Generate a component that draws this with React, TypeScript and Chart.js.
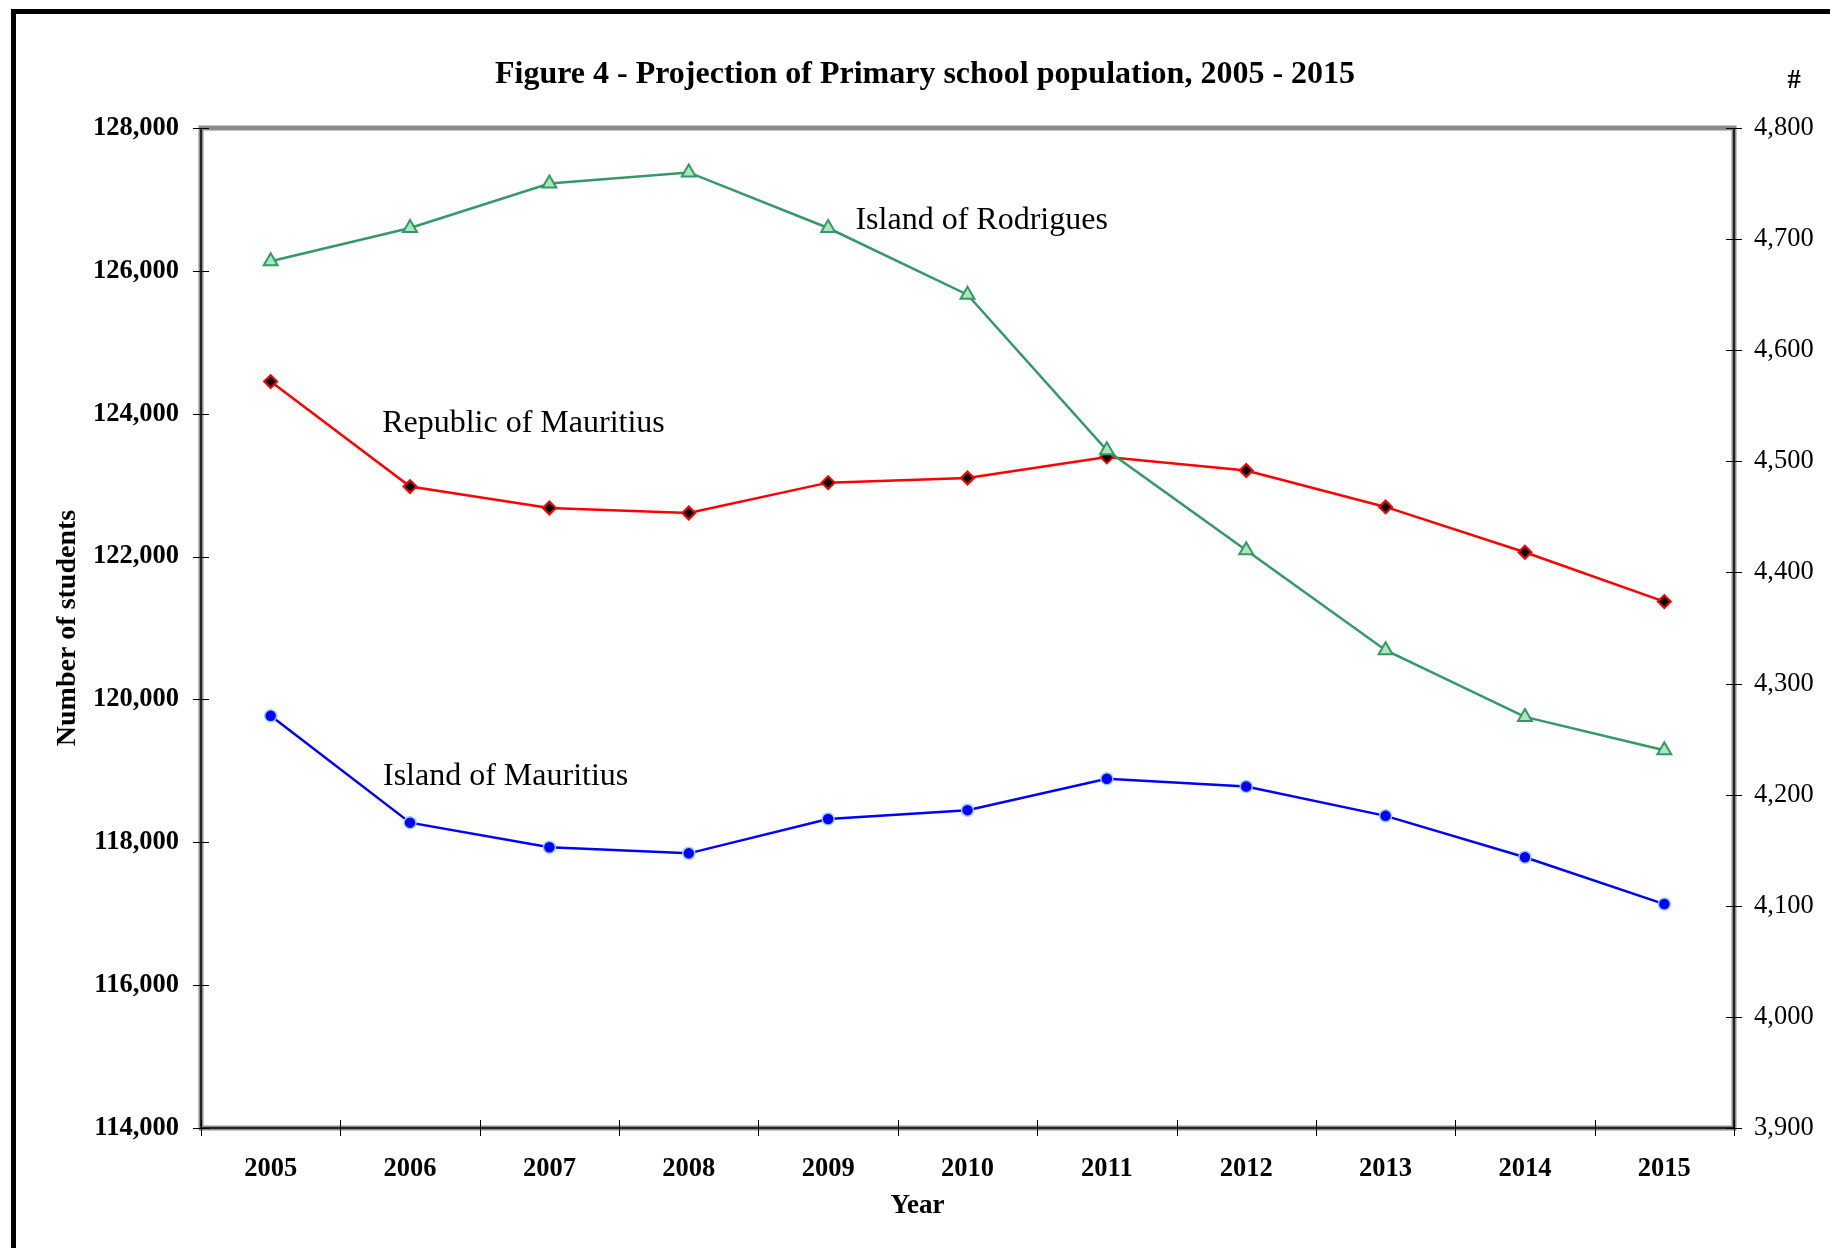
import React, { useEffect, useRef } from "react";
import { Chart, registerables } from "chart.js";

Chart.register(...registerables);

// ---- data ----
const years = ["2005", "2006", "2007", "2008", "2009", "2010", "2011", "2012", "2013", "2014", "2015"];

const republicOfMauritius = [124450, 122980, 122680, 122610, 123035, 123100, 123395, 123205, 122695, 122060, 121370];
const islandOfMauritius = [119770, 118275, 117930, 117845, 118325, 118450, 118890, 118780, 118370, 117790, 117135];
const islandOfRodrigues = [4680, 4710, 4750, 4760, 4710, 4650, 4510, 4420, 4330, 4270, 4240];

const studentAxisRange = [114000, 128000];
const studentAxisStep = 2000;
const rodriguesAxisRange = [3900, 4800];
const rodriguesAxisStep = 100;

const seriesNames = ["Island of Rodrigues", "Republic of Mauritius", "Island of Mauritius"];

const chartTitle = "Figure 4 - Projection of Primary school population, 2005 - 2015";
const leftAxisTitle = "Number of students";
const bottomAxisTitle = "Year";
const rightAxisTitle = "#";

// ---- styling ----
const SERIF = '"Liberation Serif", "Times New Roman", Times, serif';
const TICK_SIZE = 26.5;

const fmt = (v: number) => v.toLocaleString("en-US");

// Text labels placed next to each line, anchored in data units (category index, axis value)
const lineLabelAnchors = [
  { text: seriesNames[0], index: 4.196, value: 4709, axis: "y1" },
  { text: seriesNames[1], index: 0.8, value: 123744, axis: "y" },
  { text: seriesNames[2], index: 0.806, value: 118802, axis: "y" },
];

const plotDecor = {
  id: "plotDecor",
  beforeDatasetsDraw(chart: any) {
    const { ctx, chartArea: a, scales } = chart;
    ctx.save();
    // plot border
    ctx.strokeStyle = "#8c8c8c";
    ctx.lineWidth = 5;
    ctx.strokeRect(a.left, a.top, a.right - a.left, a.bottom - a.top);
    // axis lines
    ctx.strokeStyle = "#000";
    ctx.lineWidth = 1.5;
    ctx.beginPath();
    ctx.moveTo(a.left, a.top);
    ctx.lineTo(a.left, a.bottom);
    ctx.lineTo(a.right, a.bottom);
    ctx.lineTo(a.right, a.top);
    ctx.stroke();

    // crossing tick marks
    ctx.lineWidth = 1;
    const tl = 8;
    const ys = scales.y;
    ys.ticks.forEach((_t: any, i: number) => {
      const py = Math.round(ys.getPixelForTick(i)) + 0.5;
      ctx.beginPath();
      ctx.moveTo(a.left - tl, py);
      ctx.lineTo(a.left + tl, py);
      ctx.stroke();
    });
    const y1 = scales.y1;
    y1.ticks.forEach((_t: any, i: number) => {
      const py = Math.round(y1.getPixelForTick(i)) + 0.5;
      ctx.beginPath();
      ctx.moveTo(a.right - tl, py);
      ctx.lineTo(a.right + tl, py);
      ctx.stroke();
    });
    const xs = scales.x;
    const n = years.length;
    for (let i = 0; i <= n; i++) {
      const px = Math.round(xs.getPixelForValue(i - 0.5)) + 0.5;
      ctx.beginPath();
      ctx.moveTo(px, a.bottom - tl);
      ctx.lineTo(px, a.bottom + tl);
      ctx.stroke();
    }
    ctx.restore();
  },
  afterDatasetsDraw(chart: any) {
    const { ctx, chartArea: a, scales } = chart;
    ctx.save();
    ctx.fillStyle = "#000";

    // line labels
    ctx.font = `32px ${SERIF}`;
    ctx.textAlign = "left";
    ctx.textBaseline = "alphabetic";
    lineLabelAnchors.forEach((l) => {
      const px = scales.x.getPixelForValue(l.index);
      const py = scales[l.axis].getPixelForValue(l.value);
      ctx.fillText(l.text, px, py);
    });

    // bottom axis title
    ctx.font = `bold 27px ${SERIF}`;
    ctx.textAlign = "center";
    ctx.fillText(bottomAxisTitle, (a.left + a.right) / 2 - 50, a.bottom + 85);

    // right axis unit mark
    ctx.font = `bold ${TICK_SIZE}px ${SERIF}`;
    ctx.textBaseline = "middle";
    ctx.fillText(rightAxisTitle, a.right + 60, a.top - 47);
    ctx.restore();
  },
};

export default function App() {
  const canvasRef = useRef<HTMLCanvasElement | null>(null);

  useEffect(() => {
    const canvas = canvasRef.current;
    if (!canvas) return;
    const chart = new Chart(canvas, {
      type: "line",
      data: {
        labels: years,
        datasets: [
          {
            label: seriesNames[0],
            data: islandOfRodrigues,
            yAxisID: "y1",
            borderColor: "#339966",
            borderWidth: 2.5,
            pointStyle: "triangle",
            pointRadius: 8,
            pointBorderWidth: 2,
            pointBackgroundColor: "#ade6b9",
            pointBorderColor: "#339966",
            tension: 0,
          },
          {
            label: seriesNames[1],
            data: republicOfMauritius,
            yAxisID: "y",
            borderColor: "#ff0000",
            borderWidth: 2.5,
            pointStyle: "rectRot",
            pointRadius: 6.5,
            pointBorderWidth: 2,
            pointBackgroundColor: "#000000",
            pointBorderColor: "#ff0000",
            tension: 0,
          },
          {
            label: seriesNames[2],
            data: islandOfMauritius,
            yAxisID: "y",
            borderColor: "#0000ff",
            borderWidth: 2.5,
            pointStyle: "circle",
            pointRadius: 6,
            pointBorderWidth: 1.5,
            pointBackgroundColor: "#0000ff",
            pointBorderColor: "#99ccff",
            tension: 0,
          },
        ],
      },
      options: {
        responsive: false,
        animation: false,
        layout: { padding: { left: 20, right: 0, top: 0, bottom: 0 } },
        plugins: {
          legend: { display: false },
          tooltip: { enabled: false },
          title: {
            display: true,
            text: chartTitle,
            color: "#000",
            font: { family: SERIF, size: 32, weight: "bold" },
            padding: { top: 55.2, bottom: 34.4 },
          },
        },
        scales: {
          x: {
            type: "category",
            offset: true,
            grid: { display: false, drawTicks: false },
            border: { display: false },
            ticks: {
              color: "#000",
              font: { family: SERIF, size: TICK_SIZE, weight: "bold" },
              padding: 25,
              maxRotation: 0,
              autoSkip: false,
            },
            afterFit: (s: any) => {
              s.height = 120;
            },
          },
          y: {
            type: "linear",
            position: "left",
            min: studentAxisRange[0],
            max: studentAxisRange[1],
            grid: { display: false, drawTicks: false },
            border: { display: false },
            ticks: {
              stepSize: studentAxisStep,
              color: "#000",
              font: { family: SERIF, size: TICK_SIZE, weight: "bold" },
              padding: 22,
              callback: (v: any) => fmt(Number(v)),
            },
            title: {
              display: true,
              text: leftAxisTitle,
              color: "#000",
              font: { family: SERIF, size: 28, weight: "bold" },
              padding: { top: 30.5, bottom: 0 },
            },
            afterFit: (s: any) => {
              s.width = 181;
            },
          },
          y1: {
            type: "linear",
            position: "right",
            min: rodriguesAxisRange[0],
            max: rodriguesAxisRange[1],
            grid: { display: false, drawTicks: false },
            border: { display: false },
            ticks: {
              stepSize: rodriguesAxisStep,
              color: "#000",
              font: { family: SERIF, size: TICK_SIZE },
              padding: 20,
              callback: (v: any) => fmt(Number(v)),
            },
            afterFit: (s: any) => {
              s.width = 96;
            },
          },
        },
      },
      plugins: [plotDecor],
    });
    return () => chart.destroy();
  }, []);

  return (
    <div style={{ position: "absolute", left: 0, top: 0, width: 1830, height: 1248, background: "#fff", overflow: "hidden" }}>
      <div
        style={{
          position: "absolute",
          left: 11,
          top: 9,
          width: 1819,
          height: 1239,
          borderLeft: "5px solid #000",
          borderTop: "5px solid #000",
          boxSizing: "border-box",
        }}
      />
      <canvas
        ref={canvasRef}
        width={1830}
        height={1248}
        style={{ position: "absolute", left: 0, top: 0, width: 1830, height: 1248, display: "block" }}
      />
    </div>
  );
}
